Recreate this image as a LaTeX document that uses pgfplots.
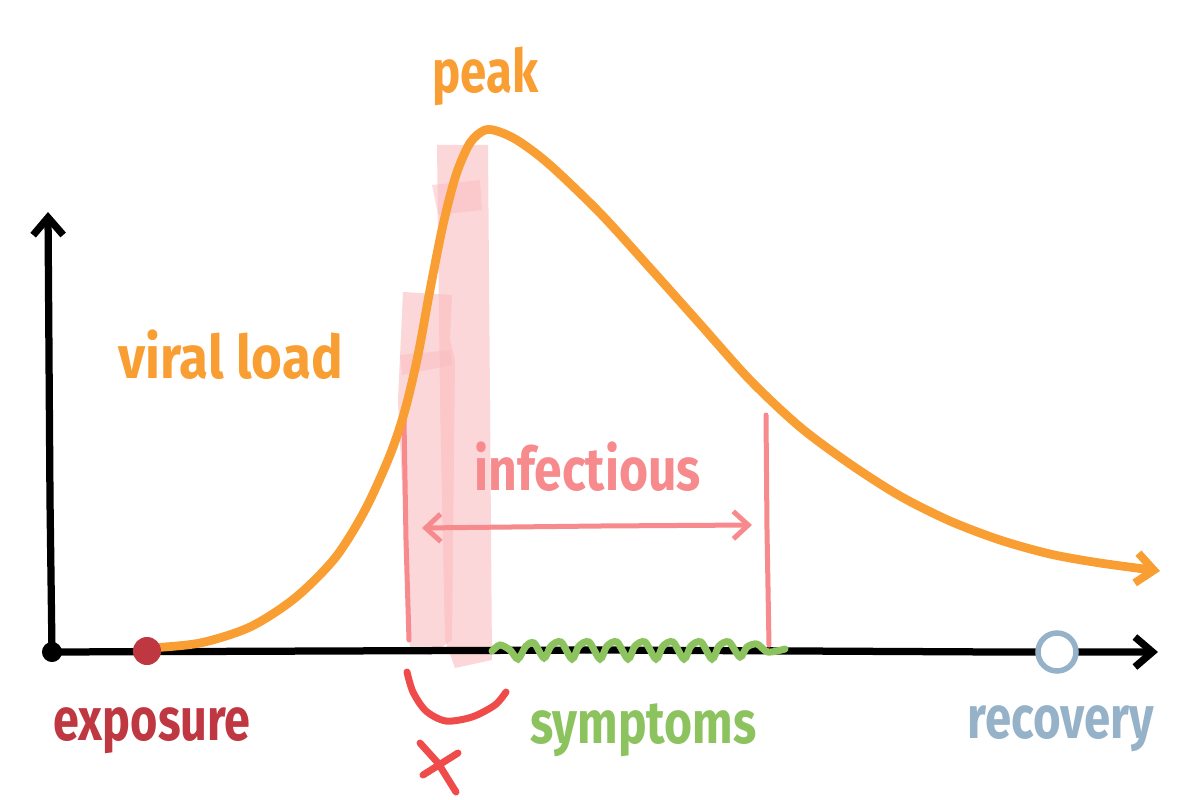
\documentclass[border=0pt]{standalone}
\usepackage{pgfplots}
\pgfplotsset{compat=1.18}
\usepackage{fontspec}
\setmainfont{Fira Sans}
\usetikzlibrary{arrows.meta}
\definecolor{curveor}{RGB}{248,158,50}
\definecolor{pinkln}{RGB}{246,138,140}
\definecolor{bandpk}{RGB}{250,188,191}
\definecolor{smile}{RGB}{240,75,75}
\definecolor{expo}{RGB}{190,55,65}
\definecolor{symp}{RGB}{140,195,95}
\definecolor{recov}{RGB}{150,178,200}
\newcommand{\lbl}[2]{\scalebox{#1}[1]{\fontsize{24}{28}\selectfont\bfseries #2}}
\begin{document}
\begin{tikzpicture}
\begin{axis}[
  width=480pt, height=319.6pt, scale only axis,
  xmin=0, xmax=1200, ymin=0, ymax=799, y dir=reverse,
  hide axis, clip=false,
]
% bounding
\addplot[draw=none] coordinates {(0,0) (1200,799)};
% pink highlight band
\addplot[fill=bandpk, draw=none, fill opacity=0.6] coordinates {(437,145) (488,145) (490,400) (492,660) (455,668) (445,640) (440,400) (437,145)} --cycle;
\addplot[fill=bandpk, draw=none, fill opacity=0.5] coordinates {(432,185) (480,180) (482,210) (438,215)} --cycle;
\addplot[fill=bandpk, draw=none, fill opacity=0.6] coordinates {(403,292) (452,295) (450,340) (455,360) (452,640) (430,655) (410,650) (398,400) (403,292)} --cycle;
\addplot[fill=bandpk, draw=none, fill opacity=0.5] coordinates {(400,355) (450,350) (452,365) (402,375)} --cycle;
% axes
\addplot[black, line width=2.9pt, line cap=round, -{Straight Barb[length=7pt,width=12pt,line width=2.9pt]}] coordinates {(52,652) (50,500) (48,212)};
\addplot[black, line width=2.9pt, line cap=round, -{Straight Barb[length=7pt,width=12pt,line width=2.9pt]}] coordinates {(52,652) (600,650) (1000,652) (1158,652)};
\addplot[only marks, mark=*, mark size=3.8pt, black] coordinates {(52,652)};
% infectious interval lines
\addplot[pinkln, line width=2pt, line cap=round] coordinates {(404,420) (406,540) (409,640)};
\addplot[pinkln, line width=2pt, line cap=round] coordinates {(766,415) (767,530) (769,645)};
\addplot[pinkln, line width=2pt, line cap=round, {Straight Barb[length=6pt,width=11pt,line width=2pt]}-{Straight Barb[length=6pt,width=11pt,line width=2pt]}] coordinates {(422,528) (600,526) (752,525)};
% symptoms wave
\addplot[symp, line width=2.8pt, smooth, line cap=round] coordinates {
(492,651) (500,645) (510,650) (518,659) (526,646) (534,643) (544,658) (551,646) (561,642) (572,659) (579,646) (589,642) (600,659) (607,646) (617,642) (628,659) (635,646) (645,642) (656,659) (663,646) (673,642) (684,659) (691,646) (701,642) (712,659) (719,646) (729,642) (740,657) (747,647) (757,644) (768,652) (785,649)};
% viral load curve
\addplot[curveor, line width=3.5pt, smooth, line cap=round, -{Straight Barb[length=7pt,width=12pt,line width=3.2pt]}] coordinates {
(150,648) (200,643) (250,627) (295,598) (335,558) (365,510) (390,455) (405,410) (418,355) (430,290) (443,225) (456,175) (470,143) (485,130) (500,132) (520,142) (550,165) (600,213) (650,268) (700,324) (750,380) (800,427) (850,464) (900,496) (950,521) (1000,540) (1050,554) (1100,563) (1160,571)};
% exposure / recovery markers
\addplot[only marks, mark=*, mark size=5.4pt, expo] coordinates {(147,651)};
\addplot[only marks, mark=*, mark size=7.6pt, draw=recov, fill=white, line width=2.2pt] coordinates {(1057,652)};
% red smile and x
\addplot[smile, line width=2.8pt, line cap=round, smooth] coordinates {(407,672) (413,692) (426,711) (446,721) (472,717) (495,705) (506,692)};
\addplot[smile, line width=2.8pt, line cap=round] coordinates {(420,743) (438,763) (456,792)};
\addplot[smile, line width=2.8pt, line cap=round] coordinates {(423,775) (458,753)};
% labels
\node[anchor=base west, inner sep=0pt, text=curveor] at (axis cs:432,93) {\lbl{0.79}{peak}};
\node[anchor=base west, inner sep=0pt, text=curveor] at (axis cs:118,378) {\lbl{0.88}{viral load}};
\node[anchor=base west, inner sep=0pt, text=pinkln] at (axis cs:474,490) {\lbl{0.83}{infectious}};
\node[anchor=base west, inner sep=0pt, text=expo] at (axis cs:53,740) {\lbl{0.78}{exposure}};
\node[anchor=base west, inner sep=0pt, text=symp] at (axis cs:530,743) {\lbl{0.80}{symptoms}};
\node[anchor=base west, inner sep=0pt, text=recov] at (axis cs:967,738) {\lbl{0.79}{recovery}};
\end{axis}
\end{tikzpicture}
\end{document}
